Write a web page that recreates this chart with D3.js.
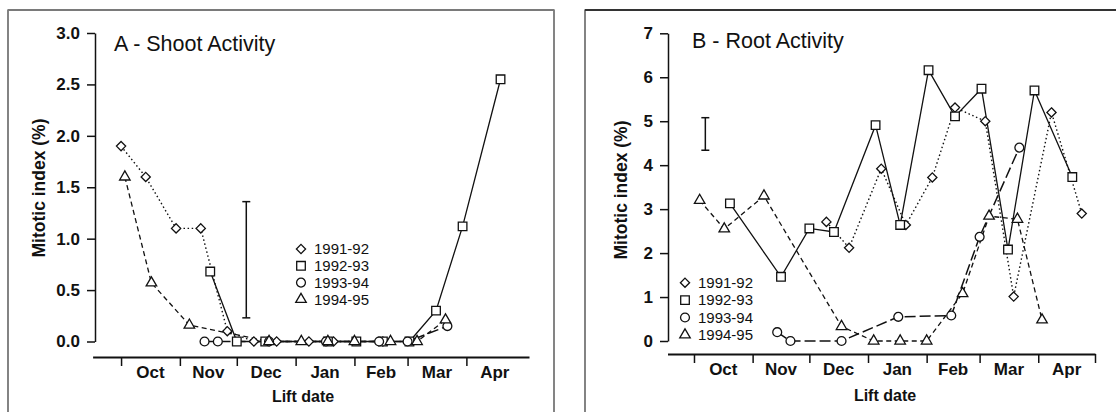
<!DOCTYPE html>
<html><head><meta charset="utf-8">
<script src="https://cdn.jsdelivr.net/npm/d3@7/dist/d3.min.js"></script>
<style>
html,body{margin:0;padding:0;background:#fff;}
svg{display:block;font-family:"Liberation Sans",Arial,Helvetica,sans-serif;}
</style></head>
<body>
<svg id="chart" width="1116" height="412"></svg>
<script>
// ---------- data ----------
const seasons = ["1991-92", "1992-93", "1993-94", "1994-95"];
const monthTicksA = ["10-01","11-01","12-01","01-01","02-01","03-01","04-01"];
const monthTicksB = ["10-01","11-01","12-01","01-01","02-01","03-01","04-01","05-01"];
const monthLabels = ["Oct","Nov","Dec","Jan","Feb","Mar","Apr"];
const yTicksA = [0, 0.5, 1.0, 1.5, 2.0, 2.5, 3.0];
const yTicksB = [0, 1, 2, 3, 4, 5, 6, 7];

// Panel A - Shoot activity (mitotic index %)
const shoot9192 = [["10-01",1.9],["10-14",1.6],["10-30",1.1],["11-12",1.1],["11-26",0.1],["12-10",0],["12-22",0],["01-08",0],["01-21",0],["02-16",0]];
const shoot9293 = [["11-17",0.68],["12-01",0],["12-16",0],["01-18",0],["02-02",0],["02-16",0],["03-02",0],["03-16",0.3],["03-30",1.12],["04-19",2.55]];
const shoot9394 = [["11-14",0],["11-21",0],["12-18",0],["01-17",0],["02-14",0],["03-01",0],["03-22",0.15]];
const shoot9495 = [["10-03",1.6],["10-17",0.57],["11-06",0.16],["12-18",0],["01-04",0],["01-18",0],["02-01",0],["02-20",0],["03-06",0],["03-21",0.21]];
const lsdA = ["12-06", 0.23, 1.36];

// Panel B - Root activity (mitotic index %)
const root9192 = [["12-10",2.71],["12-22",2.12],["01-08",3.92],["01-21",2.64],["02-04",3.72],["02-16",5.31],["03-04",5.0],["03-19",1.01],["04-08",5.2],["04-24",2.9]];
const root9293 = [["10-20",3.13],["11-16",1.46],["12-01",2.56],["12-14",2.48],["01-05",4.91],["01-18",2.64],["02-02",6.16],["02-16",5.11],["03-02",5.74],["03-16",2.08],["03-30",5.70],["04-19",3.73]];
const root9394 = [["11-14",0.2],["11-21",0],["12-18",0],["01-17",0.55],["02-14",0.58],["03-01",2.37],["03-22",4.40]];
const root9495 = [["10-04",3.2],["10-17",2.55],["11-07",3.3],["12-18",0.33],["01-04",0],["01-18",0],["02-01",0],["02-20",1.08],["03-06",2.84],["03-21",2.77],["04-03",0.48]];
const lsdB = ["10-07", 4.34, 5.08];

// ---------- helpers ----------
const parse = s => { const [m, d] = s.split("-").map(Number); return new Date(m >= 8 ? 1993 : 1994, m - 1, d); };
const mid = (a, b) => new Date((parse(a).getTime() + parse(b).getTime()) / 2);
const styles = [
  {dash: "1.5,2.6", width: 1.4, sym: "diamond"},
  {dash: null, width: 1.3, sym: "square"},
  {dash: "11,4", width: 1.5, sym: "circle"},
  {dash: "5,3.5", width: 1.3, sym: "triangle"}
];
function symbolPath(type) {
  if (type === "diamond") return "M0,-4.6L4.6,0L0,4.6L-4.6,0Z";
  if (type === "square") return "M-4.3,-4.3H4.3V4.3H-4.3Z";
  if (type === "circle") return d3.symbol(d3.symbolCircle, 62)();
  return d3.symbol(d3.symbolTriangle, 48)();
}

const svg = d3.select("#chart");
svg.append("rect").attr("width", 1116).attr("height", 412).attr("fill", "#fff");

function panel(cfg) {
  const g = svg.append("g");
  // frame
  g.append("rect").attr("x", cfg.frame[0]).attr("y", cfg.frame[1]).attr("width", cfg.frame[2]).attr("height", cfg.frame[3])
    .attr("fill", "none").attr("stroke", "#333").attr("stroke-width", 1.2);
  g.append("line").attr("x1", cfg.frame[0]).attr("x2", cfg.frame[0] + cfg.frame[2]).attr("y1", cfg.frame[1]).attr("y2", cfg.frame[1])
    .attr("stroke", cfg.topColor).attr("stroke-width", 2);

  const x = d3.scaleTime().domain([parse(cfg.xDomain[0]), parse(cfg.xDomain[1])]).range(cfg.xRange);
  const y = d3.scaleLinear().domain(cfg.yDomain).range(cfg.yRange);

  // y axis
  const ya = g.append("g").attr("transform", `translate(${cfg.yAxisX},0)`)
    .call(d3.axisLeft(y).tickValues(cfg.yTicks).tickFormat(cfg.yFmt).tickSize(8).tickSizeOuter(0).tickPadding(7));
  ya.select(".domain").attr("stroke", "#111").attr("stroke-width", 1.5);
  ya.selectAll(".tick line").attr("stroke", "#111").attr("stroke-width", 1.5);
  ya.selectAll(".tick text").attr("font-size", 17).attr("font-weight", "bold").attr("fill", "#111")
    .attr("font-family", "Liberation Sans, Arial, sans-serif");

  // x axis
  const xa = g.append("g").attr("transform", `translate(0,${cfg.xAxisY})`)
    .call(d3.axisBottom(x).tickValues(cfg.xTicks.map(parse)).tickFormat("").tickSize(9).tickSizeOuter(0));
  xa.select(".domain").attr("stroke", "#111").attr("stroke-width", 2.2);
  xa.selectAll(".tick line").attr("stroke", "#111").attr("stroke-width", 1.5);
  monthLabels.forEach((m, i) => {
    g.append("text").attr("x", x(mid(cfg.xTicks[i], i + 1 < cfg.xTicks.length ? cfg.xTicks[i + 1] : "05-01")))
      .attr("y", cfg.monthY).attr("text-anchor", "middle").attr("font-size", 17).attr("font-weight", "bold").attr("fill", "#111").text(m);
  });
  g.append("text").attr("x", cfg.xTitle[0]).attr("y", cfg.xTitle[1]).attr("text-anchor", "middle")
    .attr("font-size", 16).attr("font-weight", "bold").attr("fill", "#111").text("Lift date");
  g.append("text").attr("transform", `translate(${cfg.yTitle[0]},${cfg.yTitle[1]}) rotate(-90)`).attr("text-anchor", "middle")
    .attr("dominant-baseline", "central").attr("font-size", 17.5).attr("font-weight", "bold").attr("fill", "#111").text("Mitotic index (%)");
  g.append("text").attr("x", cfg.title[0]).attr("y", cfg.title[1]).attr("font-size", 21.5).attr("fill", "#111").text(cfg.titleText);

  // LSD bar
  const ex = x(parse(cfg.lsd[0]));
  const eb = g.append("g").attr("stroke", "#111").attr("stroke-width", 1.5);
  eb.append("line").attr("x1", ex).attr("x2", ex).attr("y1", y(cfg.lsd[1])).attr("y2", y(cfg.lsd[2]));
  [cfg.lsd[1], cfg.lsd[2]].forEach(v => eb.append("line").attr("x1", ex - 4).attr("x2", ex + 4).attr("y1", y(v)).attr("y2", y(v)));

  // lines
  const line = d3.line().x(d => x(parse(d[0]))).y(d => y(d[1]));
  cfg.series.forEach((s, i) => {
    g.append("path").datum(s).attr("d", line).attr("fill", "none").attr("stroke", "#111")
      .attr("stroke-width", styles[i].width).attr("stroke-dasharray", styles[i].dash);
  });
  // markers
  cfg.series.forEach((s, i) => {
    g.selectAll(null).data(s).join("path").attr("d", symbolPath(styles[i].sym))
      .attr("transform", d => `translate(${x(parse(d[0]))},${y(d[1])})`)
      .attr("fill", "#fff").attr("stroke", "#111").attr("stroke-width", 1.3);
  });

  // legend
  seasons.forEach((name, i) => {
    const ly = cfg.legend[1] + i * cfg.legend[2];
    g.append("path").attr("d", symbolPath(styles[i].sym)).attr("transform", `translate(${cfg.legend[0]},${ly})`)
      .attr("fill", "#fff").attr("stroke", "#111").attr("stroke-width", 1.3);
    g.append("text").attr("x", cfg.legend[0] + 13).attr("y", ly + 5.3).attr("font-size", 15).attr("fill", "#111").text(name);
  });
}

panel({
  frame: [8, 10, 546, 420], topColor: "#7a7a7a",
  xDomain: ["09-16", "05-04"], xRange: [92.6, 529], xTicks: monthTicksA, xAxisY: 357, monthY: 378,
  yDomain: [0, 3], yRange: [341.5, 33], yTicks: yTicksA, yFmt: d3.format(".1f"), yAxisX: 95,
  xTitle: [303, 402], yTitle: [39, 188], title: [114, 51], titleText: "A - Shoot Activity",
  lsd: lsdA, series: [shoot9192, shoot9293, shoot9394, shoot9495], legend: [301, 249, 16.8]
});
panel({
  frame: [585, 10, 560, 420], topColor: "#333",
  xDomain: ["09-17", "05-01"], xRange: [667.5, 1095], xTicks: monthTicksB, xAxisY: 354, monthY: 375,
  yDomain: [0, 7], yRange: [341, 33.3], yTicks: yTicksB, yFmt: d3.format("d"), yAxisX: 668,
  xTitle: [885, 401], yTitle: [621, 190], title: [692, 48], titleText: "B - Root Activity",
  lsd: lsdB, series: [root9192, root9293, root9394, root9495], legend: [685, 282.7, 17.4]
});
</script>
</body></html>
